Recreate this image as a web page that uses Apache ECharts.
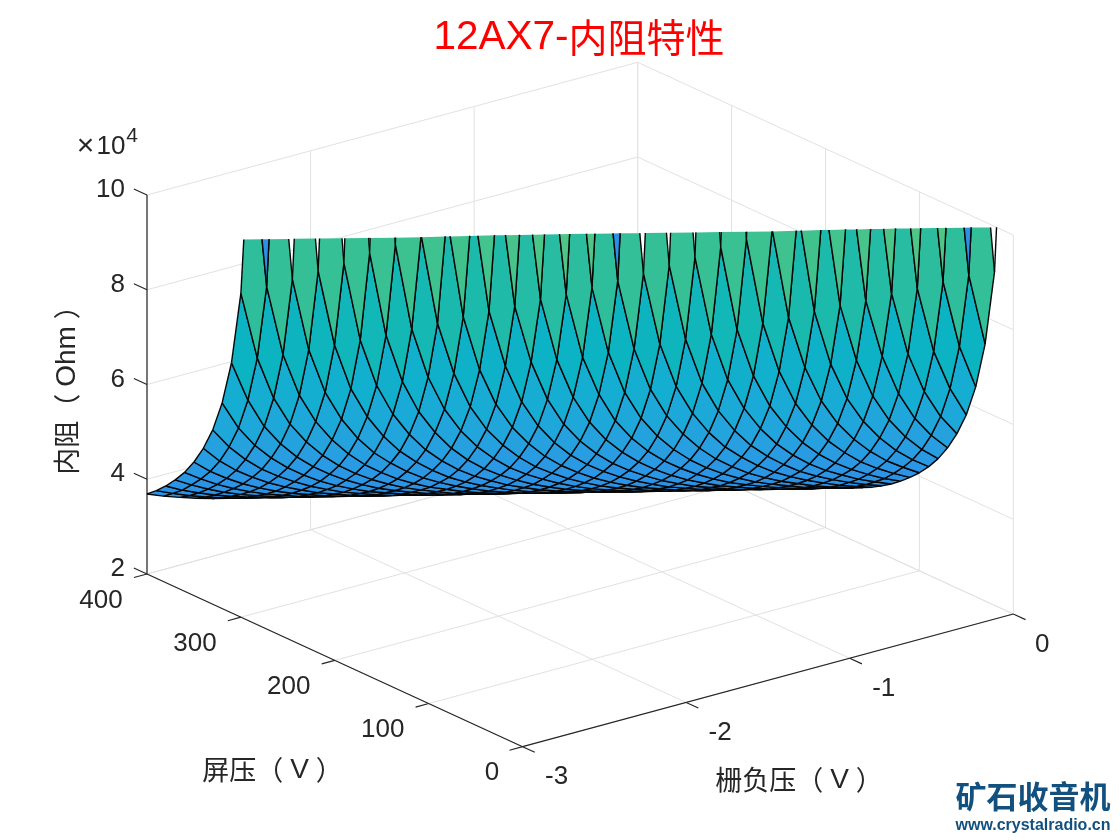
<!DOCTYPE html>
<html>
<head>
<meta charset="utf-8">
<title>12AX7-内阻特性</title>
<script src="https://cdn.jsdelivr.net/npm/echarts@6/dist/echarts.min.js"></script>
<style>
  html, body { margin: 0; padding: 0; background: #fff; }
  #chart { width: 1120px; height: 840px; }
</style>
</head>
<body>
<div id="chart"></div>
<script>
// 栅负压 (V)
const gridVoltage = [-3, -2.9, -2.8, -2.7, -2.6, -2.5, -2.4, -2.3, -2.2, -2.1, -2, -1.9, -1.8, -1.7, -1.6, -1.5,
  -1.4, -1.3, -1.2, -1.1, -1, -0.9, -0.8, -0.7, -0.6, -0.5, -0.4, -0.3, -0.2, -0.1, 0]
// 屏压 (V)
const plateVoltage = [0, 10, 20, 30, 40, 50, 60, 70, 80, 90, 100, 110, 120, 130, 140, 150, 160, 170, 180, 190, 200,
  210, 220, 230, 240, 250, 260, 270, 280, 290, 300, 310, 320, 330, 340, 350, 360, 370, 380, 390, 400]

// first plate index that has a value in each grid column, below it the tube is cut off
const firstRow = [28, 28, 27, 26, 25, 24, 23, 22, 21, 20, 19, 18, 17, 16, 15, 15, 14, 13, 12, 11, 10, 9, 8, 7, 6, 5, 4, 3, 2, 2, 1]

// 内阻 (x10^4 Ohm), one list per grid voltage
const rp = [
  [60, 12.6, 8.84, 7.28, 6.34, 5.68, 5.2, 4.82, 4.51, 4.26, 4.04, 3.85, 3.69],
  [13, 8.98, 7.38, 6.4, 5.72, 5.23, 4.84, 4.53, 4.28, 4.06, 3.86, 3.7, 3.55],
  [13.5, 9.13, 7.45, 6.44, 5.75, 5.26, 4.87, 4.55, 4.29, 4.07, 3.88, 3.71, 3.56, 3.43],
  [14.1, 9.3, 7.55, 6.5, 5.8, 5.29, 4.9, 4.57, 4.31, 4.08, 3.89, 3.72, 3.57, 3.44, 3.32],
  [14.8, 9.47, 7.65, 6.56, 5.85, 5.33, 4.92, 4.6, 4.33, 4.1, 3.9, 3.73, 3.58, 3.45, 3.33, 3.22],
  [15.6, 9.68, 7.75, 6.63, 5.9, 5.37, 4.95, 4.62, 4.35, 4.12, 3.92, 3.74, 3.59, 3.46, 3.34, 3.23, 3.13],
  [16.6, 9.85, 7.85, 6.7, 5.95, 5.4, 4.98, 4.64, 4.37, 4.13, 3.93, 3.76, 3.6, 3.47, 3.35, 3.24, 3.14, 3.05],
  [17.7, 10.05, 7.98, 6.78, 6, 5.44, 5, 4.66, 4.38, 4.15, 3.94, 3.77, 3.61, 3.48, 3.35, 3.24, 3.14, 3.05, 2.97],
  [19.1, 10.45, 8.1, 6.87, 6.05, 5.48, 5.03, 4.69, 4.4, 4.16, 3.96, 3.78, 3.62, 3.49, 3.36, 3.25, 3.15, 3.06, 2.97, 2.9],
  [21, 10.8, 8.23, 6.95, 6.1, 5.52, 5.06, 4.71, 4.42, 4.17, 3.97, 3.79, 3.63, 3.5, 3.37, 3.26, 3.16, 3.07, 2.98, 2.9, 2.83],
  [23.4, 11.2, 8.35, 7.02, 6.15, 5.55, 5.09, 4.73, 4.44, 4.19, 3.98, 3.8, 3.65, 3.51, 3.38, 3.27, 3.16, 3.07, 2.99, 2.91, 2.84, 2.77],
  [27, 11.5, 8.45, 7.1, 6.2, 5.58, 5.12, 4.75, 4.45, 4.2, 4, 3.81, 3.66, 3.52, 3.39, 3.27, 3.17, 3.08, 2.99, 2.92, 2.84, 2.77, 2.71],
  [33, 11.9, 8.6, 7.18, 6.25, 5.62, 5.15, 4.78, 4.47, 4.22, 4.01, 3.83, 3.67, 3.53, 3.4, 3.28, 3.18, 3.09, 3, 2.92, 2.85, 2.78, 2.72, 2.66],
  [47, 12.3, 8.7, 7.23, 6.3, 5.65, 5.18, 4.8, 4.49, 4.24, 4.03, 3.84, 3.68, 3.53, 3.4, 3.29, 3.18, 3.09, 3, 2.93, 2.85, 2.78, 2.72, 2.66, 2.61],
  [60, 12.6, 8.84, 7.28, 6.34, 5.68, 5.2, 4.82, 4.51, 4.26, 4.04, 3.85, 3.69, 3.54, 3.41, 3.3, 3.19, 3.1, 3.01, 2.93, 2.86, 2.79, 2.72, 2.66, 2.61, 2.56],
  [13, 8.98, 7.38, 6.4, 5.72, 5.23, 4.84, 4.53, 4.28, 4.06, 3.86, 3.7, 3.55, 3.42, 3.31, 3.2, 3.11, 3.02, 2.94, 2.87, 2.79, 2.73, 2.67, 2.61, 2.56, 2.51],
  [13.5, 9.13, 7.45, 6.44, 5.75, 5.26, 4.87, 4.55, 4.29, 4.07, 3.88, 3.71, 3.56, 3.43, 3.31, 3.21, 3.11, 3.02, 2.94, 2.87, 2.8, 2.73, 2.67, 2.62, 2.57, 2.52, 2.47],
  [14.1, 9.3, 7.55, 6.5, 5.8, 5.29, 4.9, 4.57, 4.31, 4.08, 3.89, 3.72, 3.57, 3.44, 3.32, 3.21, 3.12, 3.03, 2.95, 2.87, 2.8, 2.74, 2.68, 2.62, 2.57, 2.52, 2.47, 2.42],
  [14.8, 9.47, 7.65, 6.56, 5.85, 5.33, 4.92, 4.6, 4.33, 4.1, 3.9, 3.73, 3.58, 3.45, 3.33, 3.22, 3.12, 3.03, 2.95, 2.88, 2.81, 2.74, 2.68, 2.62, 2.57, 2.52, 2.47, 2.43, 2.38],
  [15.6, 9.68, 7.75, 6.63, 5.9, 5.37, 4.95, 4.62, 4.35, 4.12, 3.92, 3.74, 3.59, 3.46, 3.34, 3.23, 3.13, 3.04, 2.96, 2.88, 2.81, 2.75, 2.68, 2.63, 2.57, 2.52, 2.48, 2.43, 2.39, 2.35],
  [16.6, 9.85, 7.85, 6.7, 5.95, 5.4, 4.98, 4.64, 4.37, 4.13, 3.93, 3.76, 3.6, 3.47, 3.35, 3.24, 3.14, 3.05, 2.96, 2.89, 2.82, 2.75, 2.69, 2.63, 2.58, 2.53, 2.48, 2.43, 2.39, 2.35, 2.31],
  [17.7, 10.05, 7.98, 6.78, 6, 5.44, 5, 4.66, 4.38, 4.15, 3.94, 3.77, 3.61, 3.48, 3.35, 3.24, 3.14, 3.05, 2.97, 2.89, 2.82, 2.75, 2.69, 2.63, 2.58, 2.53, 2.48, 2.44, 2.39, 2.35, 2.31, 2.28],
  [19.1, 10.45, 8.1, 6.87, 6.05, 5.48, 5.03, 4.69, 4.4, 4.16, 3.96, 3.78, 3.62, 3.49, 3.36, 3.25, 3.15, 3.06, 2.97, 2.9, 2.83, 2.76, 2.69, 2.64, 2.58, 2.53, 2.49, 2.44, 2.4, 2.35, 2.32, 2.28, 2.24],
  [21, 10.8, 8.23, 6.95, 6.1, 5.52, 5.06, 4.71, 4.42, 4.17, 3.97, 3.79, 3.63, 3.5, 3.37, 3.26, 3.16, 3.07, 2.98, 2.9, 2.83, 2.76, 2.7, 2.64, 2.59, 2.54, 2.49, 2.44, 2.4, 2.36, 2.32, 2.28, 2.25, 2.21],
  [23.4, 11.2, 8.35, 7.02, 6.15, 5.55, 5.09, 4.73, 4.44, 4.19, 3.98, 3.8, 3.65, 3.51, 3.38, 3.27, 3.16, 3.07, 2.99, 2.91, 2.84, 2.77, 2.71, 2.65, 2.59, 2.54, 2.49, 2.45, 2.4, 2.36, 2.32, 2.28, 2.25, 2.21, 2.18],
  [27, 11.5, 8.45, 7.1, 6.2, 5.58, 5.12, 4.75, 4.45, 4.2, 4, 3.81, 3.66, 3.52, 3.39, 3.27, 3.17, 3.08, 2.99, 2.92, 2.84, 2.77, 2.71, 2.65, 2.6, 2.55, 2.5, 2.45, 2.41, 2.36, 2.32, 2.29, 2.25, 2.22, 2.18, 2.15],
  [33, 11.9, 8.6, 7.18, 6.25, 5.62, 5.15, 4.78, 4.47, 4.22, 4.01, 3.83, 3.67, 3.53, 3.4, 3.28, 3.18, 3.09, 3, 2.92, 2.85, 2.78, 2.72, 2.66, 2.6, 2.55, 2.5, 2.45, 2.41, 2.37, 2.33, 2.29, 2.25, 2.22, 2.19, 2.16, 2.12],
  [47, 12.3, 8.7, 7.23, 6.3, 5.65, 5.18, 4.8, 4.49, 4.24, 4.03, 3.84, 3.68, 3.53, 3.4, 3.29, 3.18, 3.09, 3, 2.93, 2.85, 2.78, 2.72, 2.66, 2.61, 2.56, 2.51, 2.46, 2.41, 2.37, 2.33, 2.29, 2.26, 2.22, 2.19, 2.16, 2.13, 2.1],
  [60, 12.6, 8.84, 7.28, 6.34, 5.68, 5.2, 4.82, 4.51, 4.26, 4.04, 3.85, 3.69, 3.54, 3.41, 3.3, 3.19, 3.1, 3.01, 2.93, 2.86, 2.79, 2.72, 2.66, 2.61, 2.56, 2.51, 2.46, 2.41, 2.37, 2.33, 2.29, 2.26, 2.22, 2.19, 2.16, 2.13, 2.1, 2.07],
  [13, 8.98, 7.38, 6.4, 5.72, 5.23, 4.84, 4.53, 4.28, 4.06, 3.86, 3.7, 3.55, 3.42, 3.31, 3.2, 3.11, 3.02, 2.94, 2.87, 2.79, 2.73, 2.67, 2.61, 2.56, 2.51, 2.46, 2.42, 2.38, 2.34, 2.3, 2.26, 2.23, 2.19, 2.16, 2.13, 2.1, 2.07, 2.05],
  [13.5, 9.04, 7.43, 6.43, 5.75, 5.26, 4.87, 4.55, 4.29, 4.07, 3.88, 3.71, 3.56, 3.43, 3.31, 3.21, 3.11, 3.02, 2.94, 2.87, 2.8, 2.73, 2.67, 2.62, 2.57, 2.52, 2.47, 2.42, 2.38, 2.34, 2.3, 2.26, 2.23, 2.19, 2.16, 2.13, 2.1, 2.08, 2.05, 2.02]
]

// cells whose first corner sits right at cut-off, drawn blue in the picture
const cutoffCells = [[0, 28], [14, 15], [28, 2]]
// last column edge next to an unpainted cell, the line is still there
const openEdges = [[30, 1]]

const xTicks = [-3, -2, -1, 0]
const yTicks = [0, 100, 200, 300, 400]
const zTicks = [2, 4, 6, 8, 10]
const xRange = [-3, 0]
const yRange = [0, 400]
const zRange = [2, 10]

// colour against 内阻, first corner of the cell decides (flat shading)
const colorLevels = [3, 4.5, 5.5, 7, 8.8, 10, 13, 18, 30]
const colorValues = ['#2c90e6', '#2b95e6', '#27a0e0', '#18acd5', '#0bb3c4', '#14b8b2', '#33bf98', '#3fc28e', '#4fc688']

// screen position of the box: front corner and the three edges leaving it
const origin = [522.6, 746.7]
const xEdge = [490.7, -132.7]
const yEdge = [-375.6, -172.7]
const zEdge = [0, -379]

const toUnit = (v, range) => (v - range[0]) / (range[1] - range[0])

const project = (p) => {
  const a = toUnit(p[0], xRange)
  const b = toUnit(p[1], yRange)
  const c = toUnit(p[2], zRange)
  return [
    origin[0] + a * xEdge[0] + b * yEdge[0] + c * zEdge[0],
    origin[1] + a * xEdge[1] + b * yEdge[1] + c * zEdge[1]
  ]
}

// far cells first, the view direction is what the box projection flattens
const depthOf = (p) => {
  const z = Math.min(p[2], zRange[1])
  return 375.6 * toUnit(p[0], xRange) + 490.7 * toUnit(p[1], yRange) - 355 * toUnit(z, zRange)
}

const vertex = (i, j) => [gridVoltage[i], plateVoltage[j], rp[i][j - firstRow[i]]]

const cellCorners = (i, j) => [vertex(i, j), vertex(i + 1, j), vertex(i + 1, j + 1), vertex(i, j + 1)]

const colorAt = (z) => {
  if (z <= colorLevels[0]) return colorValues[0]
  for (let k = 1; k < colorLevels.length; k++) {
    if (z <= colorLevels[k]) {
      const t = (z - colorLevels[k - 1]) / (colorLevels[k] - colorLevels[k - 1])
      return echarts.color.lerp(t, [colorValues[k - 1], colorValues[k]])
    }
  }
  return colorValues[colorValues.length - 1]
}

// the z axis stops at 10, whatever is higher gets cut like MATLAB does
const cutAtTop = (p, q) => {
  const t = (zRange[1] - p[2]) / (q[2] - p[2])
  return [p[0] + t * (q[0] - p[0]), p[1] + t * (q[1] - p[1]), zRange[1]]
}

const clipPolygon = (pts) => {
  const out = []
  pts.forEach((p, k) => {
    const q = pts[(k + 1) % pts.length]
    const pIn = p[2] <= zRange[1]
    const qIn = q[2] <= zRange[1]
    if (pIn) out.push(p)
    if (pIn !== qIn) out.push(cutAtTop(p, q))
  })
  return out
}

const clipEdge = (p, q) => {
  const pIn = p[2] <= zRange[1]
  const qIn = q[2] <= zRange[1]
  if (!pIn && !qIn) return null
  if (pIn && qIn) return [p, q]
  return pIn ? [p, cutAtTop(p, q)] : [cutAtTop(p, q), q]
}

const cells = []
for (let i = 0; i < gridVoltage.length - 1; i++) {
  for (let j = firstRow[i]; j < plateVoltage.length - 1; j++) {
    const c = cellCorners(i, j)
    cells.push({ i, j, depth: (depthOf(c[0]) + depthOf(c[1]) + depthOf(c[2]) + depthOf(c[3])) / 4 })
  }
}
cells.sort((p, q) => q.depth - p.depth)

const meshLine = (api, p, q) => {
  const edge = clipEdge(p, q)
  if (!edge) return null
  const a = api.coord(project(edge[0]))
  const b = api.coord(project(edge[1]))
  return {
    type: 'line',
    shape: { x1: a[0], y1: a[1], x2: b[0], y2: b[1] },
    style: { stroke: '#060606', lineWidth: 1.4, fill: null }
  }
}

const renderCell = (params, api) => {
  const i = api.value(0)
  const j = api.value(1)
  const corners = cellCorners(i, j)
  const isCutoff = cutoffCells.some((c) => c[0] === i && c[1] === j)
  const fill = isCutoff ? colorValues[0] : colorAt(corners[0][2])
  const children = [{
    type: 'polygon',
    shape: { points: clipPolygon(corners).map((p) => api.coord(project(p))) },
    style: { fill: fill, stroke: null }
  }]
  corners.forEach((p, k) => {
    const line = meshLine(api, p, corners[(k + 1) % 4])
    if (line) children.push(line)
  })
  return { type: 'group', children: children }
}

const renderOpenEdge = (params, api) => meshLine(api, vertex(api.value(0), api.value(1)), vertex(api.value(0), api.value(1) + 1))

// frame: light grid on the back walls and floor, dark axes with ticks
const gridColor = '#e2e2e2'
const axisColor = '#262626'
const xMin = xRange[0], xMax = xRange[1], yMin = yRange[0], yMax = yRange[1], zMin = zRange[0], zMax = zRange[1]
const frameLines = []
const addLine = (from, to, color, width) => frameLines.push({ from, to, color, width })
xTicks.forEach((x) => {
  addLine([x, yMin, zMin], [x, yMax, zMin], gridColor, 1)
  addLine([x, yMax, zMin], [x, yMax, zMax], gridColor, 1)
})
yTicks.forEach((y) => {
  addLine([xMin, y, zMin], [xMax, y, zMin], gridColor, 1)
  addLine([xMax, y, zMin], [xMax, y, zMax], gridColor, 1)
})
zTicks.forEach((z) => {
  addLine([xMin, yMax, z], [xMax, yMax, z], gridColor, 1)
  addLine([xMax, yMin, z], [xMax, yMax, z], gridColor, 1)
})
addLine([xMin, yMin, zMin], [xMax, yMin, zMin], axisColor, 1.2)
addLine([xMin, yMin, zMin], [xMin, yMax, zMin], axisColor, 1.2)
addLine([xMin, yMax, zMin], [xMin, yMax, zMax], axisColor, 1.2)
xTicks.forEach((x) => addLine([x, yMin, zMin], [x, yMin - 13, zMin], axisColor, 1.2))
yTicks.forEach((y) => addLine([xMin, y, zMin], [xMin - 0.08, y, zMin], axisColor, 1.2))
zTicks.forEach((z) => addLine([xMin, yMax, z], [xMin, yMax + 14, z], axisColor, 1.2))

const renderFrame = (params, api) => {
  const seg = frameLines[params.dataIndex]
  const a = api.coord(project(seg.from))
  const b = api.coord(project(seg.to))
  return {
    type: 'line',
    shape: { x1: a[0], y1: a[1], x2: b[0], y2: b[1] },
    style: { stroke: seg.color, lineWidth: seg.width, fill: null }
  }
}

const latin = '"Liberation Sans", Arial, sans-serif'
const cjk = '"Noto Sans CJK SC", sans-serif'
const textColor = '#262626'

const label = (text, x, y, extra) => ({
  type: 'text',
  x: x,
  y: y,
  rotation: (extra && extra.rotation) || 0,
  style: Object.assign({
    text: text,
    align: 'center',
    verticalAlign: 'middle',
    fill: textColor,
    font: '26px ' + latin
  }, extra && extra.style)
})

const tickLabels = []
xTicks.forEach((x) => {
  const p = project([x, yMin, zMin])
  tickLabels.push(label(String(x), p[0] + (x === 0 ? 29 : 34), p[1] + 30.5))
})
yTicks.forEach((y) => {
  const p = project([xMin, y, zMin])
  tickLabels.push(label(String(y), p[0] + (y === 0 ? -30.5 : -46), p[1] + 26.5))
})
zTicks.forEach((z) => {
  const p = project([xMin, yMax, z])
  tickLabels.push(label(String(z), 125, p[1] - 5, { style: { align: 'right' } }))
})

// each part is its own fragment so the full width brackets keep their width
const axisRich = {
  c: { fontSize: 27, fontFamily: cjk, color: '#3a3a3a' },
  l: { fontSize: 28, fontFamily: latin, color: textColor, padding: [0, 7, 0, 7] }
}
const axisLabel = (text, x, y, rotation) => label(text, x, y, { rotation: rotation, style: { rich: axisRich } })

const chart = echarts.init(document.getElementById('chart'))
chart.setOption({
  animation: false,
  backgroundColor: '#fff',
  title: {
    text: '{l|12AX7-}{c|内阻特性}',
    left: 574,
    top: 12,
    textAlign: 'center',
    textStyle: {
      fontWeight: 'normal',
      rich: {
        l: { color: '#f00', fontSize: 40.5, fontFamily: latin, fontWeight: 'normal' },
        c: { color: '#f00', fontSize: 39, fontFamily: cjk, fontWeight: 'normal' }
      }
    }
  },
  grid: { left: 0, right: 0, top: 0, bottom: 0 },
  xAxis: { type: 'value', min: 0, max: 1120, show: false },
  yAxis: { type: 'value', min: 0, max: 840, inverse: true, show: false },
  series: [
    {
      type: 'custom',
      coordinateSystem: 'cartesian2d',
      clip: false,
      silent: true,
      progressive: 0,
      z: 1,
      data: frameLines.map((s, k) => [k]),
      renderItem: renderFrame
    },
    {
      type: 'custom',
      coordinateSystem: 'cartesian2d',
      clip: false,
      silent: true,
      progressive: 0,
      z: 2,
      encode: { x: 0, y: 1 },
      data: cells.map((c) => [c.i, c.j]),
      renderItem: renderCell
    },
    {
      type: 'custom',
      coordinateSystem: 'cartesian2d',
      clip: false,
      silent: true,
      z: 3,
      encode: { x: 0, y: 1 },
      data: openEdges,
      renderItem: renderOpenEdge
    }
  ],
  graphic: { elements: tickLabels.concat([
    axisLabel('{c|栅负压（}{l|V}{c|）}', 799, 780),
    axisLabel('{c|屏压（}{l|V}{c|）}', 272.5, 770),
    axisLabel('{c|内阻（}{l|Ohm}{c|）}', 67, 383.5, Math.PI / 2),
    label('×', 85.5, 147, { style: { font: '30px ' + latin } }),
    label('10', 111, 147),
    label('4', 132, 136, { style: { font: '21px ' + latin } }),
    label('矿石收音机', 1033, 796, { style: { font: 'bold 31px ' + cjk, fill: '#11507f' } }),
    label('www.crystalradio.cn', 1033, 826, { style: { font: 'bold 16px ' + latin, fill: '#11507f' } })
  ]) }
})
</script>
</body>
</html>
